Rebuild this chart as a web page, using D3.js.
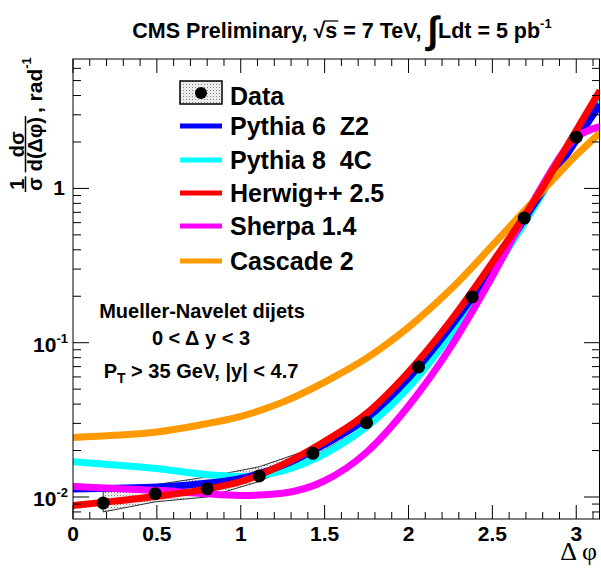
<!DOCTYPE html>
<html>
<head>
<meta charset="utf-8">
<script src="https://cdn.jsdelivr.net/npm/d3@7"></script>
<style>
body { margin: 0; background: #fff; }
text { font-family: "Liberation Sans", Arial, Helvetica, sans-serif; font-weight: bold; fill: #000; }
</style>
</head>
<body>
<svg id="chart" width="601" height="568"></svg>
<script>
// measured data points (delta phi bin centres)
const dataX  = [0.18, 0.49, 0.80, 1.11, 1.43, 1.75, 2.06, 2.38, 2.69, 3.00];
const dataY  = [0.00914, 0.0105, 0.0113, 0.0137, 0.0192, 0.0303, 0.0697, 0.198, 0.642, 2.15];
const dataHi = [0.0108, 0.0120, 0.0135, 0.0157, 0.0207, 0.0318, 0.0725, 0.205, 0.662, 2.21];
const dataLo = [0.0080, 0.0093, 0.0100, 0.0126, 0.0182, 0.0289, 0.0668, 0.191, 0.622, 2.09];

// MC predictions on a common grid
const mcX      = [0, 0.25, 0.5, 0.75, 1.0, 1.25, 1.5, 1.75, 2.0, 2.25, 2.5, 2.75, 3.0, 3.1416];
const pythia6  = [0.01127, 0.0114, 0.01159, 0.01213, 0.01318, 0.01603, 0.0219, 0.0324, 0.0589, 0.126, 0.302, 0.794, 2.05, 3.50];
const pythia8  = [0.0169, 0.01614, 0.01531, 0.01413, 0.01358, 0.01479, 0.01905, 0.0285, 0.0513, 0.112, 0.282, 0.759, 2.20, 3.88];
const herwig   = [0.00879, 0.0094, 0.0101, 0.01104, 0.0126, 0.0162, 0.0229, 0.0348, 0.0646, 0.138, 0.331, 0.832, 2.37, 4.31];
const sherpa   = [0.01169, 0.01135, 0.01104, 0.01059, 0.01023, 0.01059, 0.01274, 0.0195, 0.0389, 0.0933, 0.269, 0.851, 2.14, 2.51];
const cascade  = [0.0243, 0.0251, 0.0264, 0.0292, 0.0333, 0.0412, 0.0556, 0.0794, 0.126, 0.221, 0.427, 0.841, 1.64, 2.29];

const legendNames = ["Pythia 6  Z2", "Pythia 8  4C", "Herwig++ 2.5", "Sherpa 1.4", "Cascade 2"];
const xTickLabels = ["0", "0.5", "1", "1.5", "2", "2.5", "3"];

const pLeft = 73, pRight = 600, pTop = 59, pBottom = 519;

const svg = d3.select("#chart");

const x = d3.scaleLinear().domain([0, Math.PI]).range([pLeft, pRight]);
const y = d3.scaleLog().domain([0.0072, 6.9]).range([pBottom, pTop]);

const defs = svg.append("defs");
defs.append("clipPath").attr("id", "plotclip")
  .append("rect").attr("x", pLeft).attr("y", pTop).attr("width", pRight - pLeft).attr("height", pBottom - pTop);
const pat = defs.append("pattern").attr("id", "hatch")
  .attr("patternUnits", "userSpaceOnUse").attr("width", 3).attr("height", 3);
pat.append("rect").attr("width", 3).attr("height", 3).attr("fill", "#ececec");
pat.append("rect").attr("width", 1).attr("height", 1).attr("fill", "#8a8a8a");

const plot = svg.append("g").attr("clip-path", "url(#plotclip)");

// data uncertainty band
const bandPts = dataX.map((d, i) => [x(d), y(dataHi[i])])
  .concat(dataX.map((d, i) => [x(d), y(dataLo[i])]).reverse());
plot.append("path")
  .attr("d", "M" + bandPts.join("L") + "Z")
  .attr("fill", "url(#hatch)")
  .attr("stroke", "#000")
  .attr("stroke-width", 0.8);

const line = d3.line()
  .x((d, i) => x(mcX[i]))
  .y(d => y(d))
  .curve(d3.curveMonotoneX);

const series = [
  { vals: pythia8, color: "#00ffff" },
  { vals: pythia6, color: "#0000ff" },
  { vals: sherpa,  color: "#ff00ff" },
  { vals: cascade, color: "#ff9900" },
  { vals: herwig,  color: "#ff0000" }
];
series.forEach(s => {
  plot.append("path")
    .attr("d", line(s.vals))
    .attr("fill", "none")
    .attr("stroke", s.color)
    .attr("stroke-width", 7);
});

// data points
plot.selectAll("circle.pt")
  .data(dataX)
  .enter().append("circle")
    .attr("class", "pt")
    .attr("cx", d => x(d))
    .attr("cy", (d, i) => y(dataY[i]))
    .attr("r", 6.5)
    .attr("fill", "#000");

// frame + ticks
const axes = svg.append("g").attr("stroke", "#000").attr("stroke-width", 1).attr("fill", "none");
axes.append("rect").attr("x", pLeft).attr("y", pTop).attr("width", pRight - pLeft - 0.5).attr("height", pBottom - pTop);

const xMinor = d3.range(0, 32).map(d => d / 10);
xMinor.forEach(v => {
  const major = Math.abs(v * 2 - Math.round(v * 2)) < 1e-6;
  const len = major ? 14 : 7;
  axes.append("line").attr("x1", x(v)).attr("x2", x(v)).attr("y1", pBottom).attr("y2", pBottom - len);
  axes.append("line").attr("x1", x(v)).attr("x2", x(v)).attr("y1", pTop).attr("y2", pTop + len);
});
const yTicks = y.ticks();
yTicks.forEach(v => {
  const major = Math.abs(Math.log10(v) - Math.round(Math.log10(v))) < 1e-6;
  const len = major ? 16 : 8;
  axes.append("line").attr("x1", pLeft).attr("x2", pLeft + len).attr("y1", y(v)).attr("y2", y(v));
  axes.append("line").attr("x1", pRight).attr("x2", pRight - len).attr("y1", y(v)).attr("y2", y(v));
});

// x tick labels
svg.selectAll("text.xl")
  .data(xTickLabels)
  .enter().append("text")
    .attr("class", "xl")
    .attr("x", d => x(+d))
    .attr("y", 541)
    .attr("text-anchor", "middle")
    .style("font-size", "21px")
    .text(d => d);

// y tick labels
yTicks.filter(v => Math.abs(Math.log10(v) - Math.round(Math.log10(v))) < 1e-6).forEach(v => {
  const e = Math.round(Math.log10(v));
  if (e === 0) {
    svg.append("text").attr("x", 65).attr("y", y(v) + 7).attr("text-anchor", "end")
      .style("font-size", "21px").text("1");
  } else {
    const t = svg.append("text").attr("x", 68).attr("y", y(v) + 9).attr("text-anchor", "end")
      .style("font-size", "21px");
    t.append("tspan").text("10");
    t.append("tspan").attr("dy", -9).style("font-size", "13px").text(String(e));
  }
});

// x axis title
svg.append("text").attr("x", 597).attr("y", 560).attr("text-anchor", "end")
  .style("font-family", "'Liberation Serif', 'DejaVu Serif', serif")
  .style("font-size", "26px").style("font-weight", "normal").text("\u0394 \u03c6");

// helper: lay pieces of text in a row
function row(g, pieces, x0, y0) {
  let cx = x0;
  const out = [];
  pieces.forEach(p => {
    cx += (p.dx || 0);
    const el = g.append("text").attr("x", cx).attr("y", y0 + (p.dy || 0))
      .attr("xml:space", "preserve")
      .style("font-size", p.size + "px").style("white-space", "pre").text(p.t);
    const w = el.node().getComputedTextLength();
    out.push({ el: el, x: cx, w: w });
    cx += w;
  });
  return { end: cx, out: out };
}

// title
const tg = svg.append("g");
const tr = row(tg, [
  { t: "CMS Preliminary, ", size: 21.5 },
  { t: "\u221a", size: 21.5 },
  { t: "s", size: 21.5 },
  { t: " = 7 TeV, ", size: 21.5 },
  { t: "\u222b", size: 38, dy: 5 },
  { t: "Ldt = 5 pb", size: 21.5 },
  { t: "-1", size: 13, dy: -10 }
], 0, 38);
tg.append("line").attr("x1", tr.out[2].x - 1).attr("x2", tr.out[2].x + tr.out[2].w + 1)
  .attr("y1", 21).attr("y2", 21).attr("stroke", "#000").attr("stroke-width", 1.3);
tg.attr("transform", "translate(" + (342 - tr.end / 2) + ",0)");

// y axis title (rotated)
const yg = svg.append("g").attr("transform", "translate(45,192) rotate(-90)");
function frac(g, num, den, x0, size) {
  const n = g.append("text").style("font-size", size + "px").attr("y", -21.5).text(num);
  const d = g.append("text").style("font-size", size + "px").attr("y", -3).text(den);
  const wn = n.node().getComputedTextLength(), wd = d.node().getComputedTextLength();
  const w = Math.max(wn, wd) + 2;
  n.attr("x", x0 + (w - wn) / 2);
  d.attr("x", x0 + (w - wd) / 2);
  g.append("line").attr("x1", x0).attr("x2", x0 + w).attr("y1", -19.5).attr("y2", -19.5)
    .attr("stroke", "#000").attr("stroke-width", 1.5);
  return x0 + w;
}
let yx = frac(yg, "1", "\u03c3", 0, 20);
yx = frac(yg, "d\u03c3", "d(\u0394\u03c6)", yx + 4, 20);
row(yg, [
  { t: ",", size: 21, dy: -3 },
  { t: " rad", size: 21, dy: -3 },
  { t: "-1", size: 13, dy: -14 }
], yx + 3, 0);

// legend
const lg = svg.append("g");
lg.append("rect").attr("x", 180).attr("y", 81).attr("width", 42).attr("height", 23)
  .attr("fill", "url(#hatch)").attr("stroke", "#000").attr("stroke-width", 1.5);
lg.append("circle").attr("cx", 201).attr("cy", 93).attr("r", 6).attr("fill", "#000");
lg.append("text").attr("x", 230).attr("y", 105).style("font-size", "25px").text("Data");
const legColors = ["#0000ff", "#00ffff", "#ff0000", "#ff00ff", "#ff9900"];
const legY = [126, 160, 193, 226, 261];
legendNames.forEach((n, i) => {
  lg.append("line").attr("x1", 180).attr("x2", 222).attr("y1", legY[i]).attr("y2", legY[i])
    .attr("stroke", legColors[i]).attr("stroke-width", 5);
  lg.append("text").attr("x", 230).attr("y", legY[i] + 9).style("font-size", "25px")
    .style("white-space", "pre").attr("xml:space", "preserve").text(n);
});

// annotation
const ag = svg.append("g").attr("text-anchor", "middle");
ag.append("text").attr("x", 202).attr("y", 318).style("font-size", "20px").text("Mueller-Navelet dijets");
ag.append("text").attr("x", 201).attr("y", 345).style("font-size", "20px").text("0 < \u0394 y < 3");
const pt = ag.append("text").attr("x", 201).attr("y", 378).style("font-size", "20px");
pt.append("tspan").text("P");
pt.append("tspan").attr("dy", 5).style("font-size", "14px").text("T");
pt.append("tspan").attr("dy", -5).text(" > 35 GeV, |y| < 4.7");
</script>
</body>
</html>
